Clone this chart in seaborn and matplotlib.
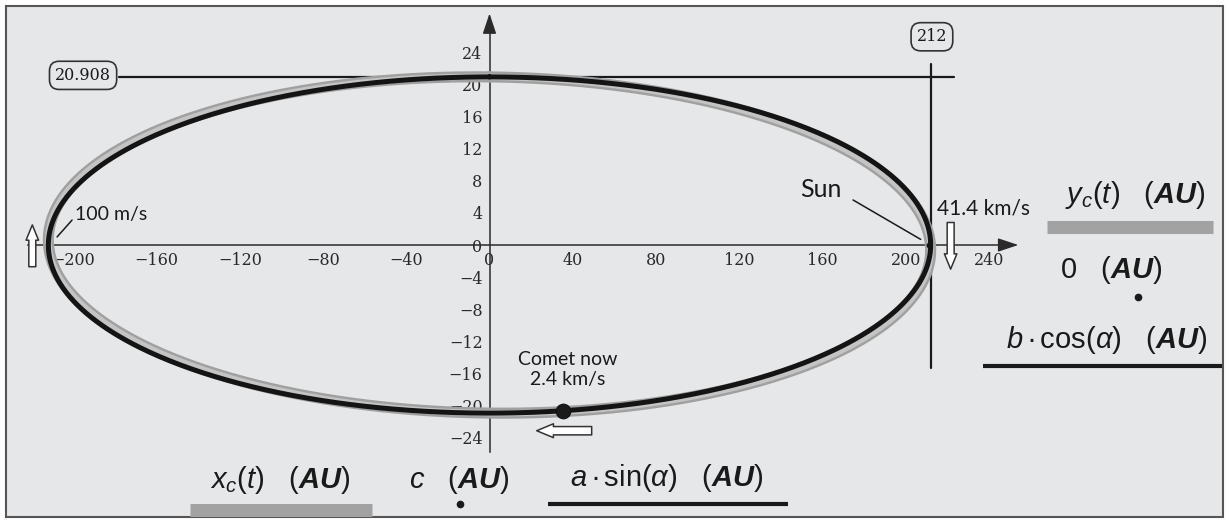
import numpy as np
import matplotlib
matplotlib.use("Agg")
import matplotlib.pyplot as plt
import seaborn as sns
from matplotlib.lines import Line2D
from matplotlib.patches import Rectangle

# ---------------- data ----------------
semi_major = 212.0          # a (AU)
semi_minor = 20.908         # b (AU)
focus_c = 210.97            # c (AU): Sun position on the x axis
gray_tilt = -0.003          # small tilt of the computed trajectory x_c(t), y_c(t)
alpha = np.linspace(0.0, 2.0 * np.pi, 721)
x_ticks = [-200, -160, -120, -80, -40, 0, 40, 80, 120, 160, 200, 240]
y_ticks = [-24, -20, -16, -12, -8, -4, 0, 4, 8, 12, 16, 20, 24]
comet_now = (35.5, -20.6)
marker_a = "212"
marker_b = "20.908"
speed_aphelion = "100 m/s"
speed_perihelion = "41.4 km/s"
speed_now = "Comet now\n2.4 km/s"

# ellipse series
ell_x = semi_major * np.sin(alpha)
ell_y = semi_minor * np.cos(alpha)
traj_x = ell_x
traj_y = ell_y + gray_tilt * ell_x

# ---------------- style ----------------
sns.set_style("white")
plt.rcParams['font.family'] = ['Lato', 'DejaVu Sans']
plt.rcParams['mathtext.fontset'] = 'custom'
plt.rcParams['mathtext.rm'] = 'Liberation Sans'
plt.rcParams['mathtext.it'] = 'Liberation Sans:italic'
plt.rcParams['mathtext.bf'] = 'Liberation Sans:bold'
try:
    plt.rcParams['mathtext.bfit'] = 'Liberation Sans:italic:bold'
except Exception:
    pass

W, H = 1229, 522
L, R, T, B = 6, 1223, 6, 517
x0, y0 = 489.5, 245.0
px_x, px_y = 2.081, 8.04

fig = plt.figure(figsize=(W / 100, H / 100), dpi=100)
fig.patch.set_facecolor('white')
ax = fig.add_axes([L / W, 1 - B / H, (R - L) / W, (B - T) / H])
ax.set_xlim((L - x0) / px_x, (R - x0) / px_x)
ax.set_ylim((y0 - B) / px_y, (y0 - T) / px_y)
ax.set_facecolor('#e6e7e8')

axis_col = '#2a2a2a'
for s in ['top', 'right']:
    ax.spines[s].set_visible(False)
ax.spines['left'].set_position(('data', 0))
ax.spines['bottom'].set_position(('data', 0))
ax.spines['bottom'].set_bounds(-222, 250)
ax.spines['left'].set_bounds(-25.7, 27.5)
for s in ['left', 'bottom']:
    ax.spines[s].set_color(axis_col)
    ax.spines[s].set_linewidth(1.1)
ax.set_xticks(x_ticks)
ax.set_yticks(y_ticks)
ax.tick_params(direction='inout', length=8, width=1, colors=axis_col,
               labelsize=11.5, labelfontfamily='DejaVu Serif', pad=1)
ax.set_xlabel('')
ax.set_ylabel('')

# axis arrowheads
ax.annotate('', xy=(254.1, 0), xytext=(246, 0),
            arrowprops=dict(arrowstyle='-|>,head_length=0.9,head_width=0.3',
                            color=axis_col, lw=1, shrinkA=0, shrinkB=0, mutation_scale=14))
ax.annotate('', xy=(0, 28.8), xytext=(0, 26.5),
            arrowprops=dict(arrowstyle='-|>,head_length=0.9,head_width=0.3',
                            color=axis_col, lw=1, shrinkA=0, shrinkB=0, mutation_scale=14))

# marker lines
ax.plot([-178, 223], [semi_minor, semi_minor], color='#1a1a1a', lw=1.6, zorder=2)
ax.plot([semi_major, semi_major], [-15.3, 22.5], color='#1a1a1a', lw=1.6, zorder=2)
box = dict(boxstyle='round,pad=0.35,rounding_size=0.6', fc='none', ec='#333333', lw=1.2)
ax.text(-195.3, 21.1, marker_b, ha='center', va='center', fontsize=11.5,
        family='DejaVu Serif', color='#1a1a1a', bbox=box)
ax.text(212.6, 25.9, marker_a, ha='center', va='center', fontsize=11.5,
        family='DejaVu Serif', color='#1a1a1a', bbox=box)

# curves
sns.lineplot(x=traj_x, y=traj_y, sort=False, estimator=None, color='#a0a0a0',
             lw=8, ax=ax, zorder=3)
sns.lineplot(x=traj_x, y=traj_y, sort=False, estimator=None, color='#c4c4c4',
             lw=4.5, ax=ax, zorder=3)
sns.lineplot(x=ell_x, y=ell_y, sort=False, estimator=None, color='#141414',
             lw=3.6, ax=ax, zorder=4)
sns.scatterplot(x=[focus_c], y=[0], color='#141414', s=18, ax=ax, zorder=5, linewidth=0)
sns.scatterplot(x=[comet_now[0]], y=[comet_now[1]], color='#1a1a1a', s=110,
                edgecolor='#111111', ax=ax, zorder=6)

# block arrows
def block_arrow(tail, tip, hw=0.45, hl=0.55, tw=0.25, ms=20):
    ax.annotate('', xy=tip, xytext=tail,
                arrowprops=dict(arrowstyle=f'simple,head_length={hl},head_width={hw},tail_width={tw}',
                                fc='white', ec='#333333', lw=1.1, shrinkA=0, shrinkB=0,
                                mutation_scale=ms), zorder=7)

block_arrow((-219.7, -2.7), (-219.7, 2.5))
block_arrow((221.6, 2.8), (221.6, -3.0))
block_arrow((49.1, -23.1), (22.7, -23.1), hw=0.5, hl=0.6, tw=0.3)

# annotations
ax.text(-199.2, 3.75, speed_aphelion, ha='left', va='center', fontsize=14, color='#1a1a1a')
ax.plot([-200.6, -207.8], [3.1, 1.0], color='#1a1a1a', lw=1.1)
ax.text(159.3, 6.9, 'Sun', ha='center', va='center', fontsize=18, color='#1a1a1a')
ax.plot([174.7, 207.2], [5.6, 0.7], color='#1a1a1a', lw=1.1)
ax.text(214.9, 4.6, speed_perihelion, ha='left', va='center', fontsize=15, color='#1a1a1a')
ax.text(37.7, -15.5, speed_now, ha='center', va='center', fontsize=14, color='#1a1a1a',
        linespacing=1.2)

# legend-like labels (figure pixel coords)
def ftext(px, py, s, size=21):
    fig.text(px / W, 1 - py / H, s, ha='center', va='center', fontsize=size, color='#1a1a1a')

def fbar(px1, px2, py, color, lw):
    fig.add_artist(Line2D([px1 / W, px2 / W], [1 - py / H, 1 - py / H], color=color, lw=lw,
                          solid_capstyle='butt'))

def fdot(px, py):
    fig.add_artist(Line2D([px / W], [1 - py / H], marker='o', ms=4.5, color='#1a1a1a', lw=0))

ftext(1135, 195, r'$y_c(t)\quad(\boldsymbol{AU})$')
fbar(1047, 1213, 226.5, '#a2a2a2', 9.4)
ftext(1111, 270, r'$0\quad(\boldsymbol{AU})$')
fdot(1138, 297)
ftext(1107, 340, r'$b\bullet\cos(\alpha)\quad(\boldsymbol{AU})$')
fbar(983, 1222, 366, '#1a1a1a', 3)

ftext(280, 480, r'$x_c(t)\quad(\boldsymbol{AU})$')
fbar(190, 372, 509.5, '#a2a2a2', 9.4)
ftext(459, 480, r'$c\quad(\boldsymbol{AU})$')
fdot(460, 504)
ftext(667, 478, r'$a\bullet\sin(\alpha)\quad(\boldsymbol{AU})$')
fbar(548, 788, 504, '#1a1a1a', 3)

# outer frame
fig.add_artist(Rectangle((L / W, 1 - B / H), (R - L) / W, (B - T) / H, transform=fig.transFigure,
                         fill=False, ec='#555555', lw=1.5))

fig.savefig('out.png', dpi=100)
